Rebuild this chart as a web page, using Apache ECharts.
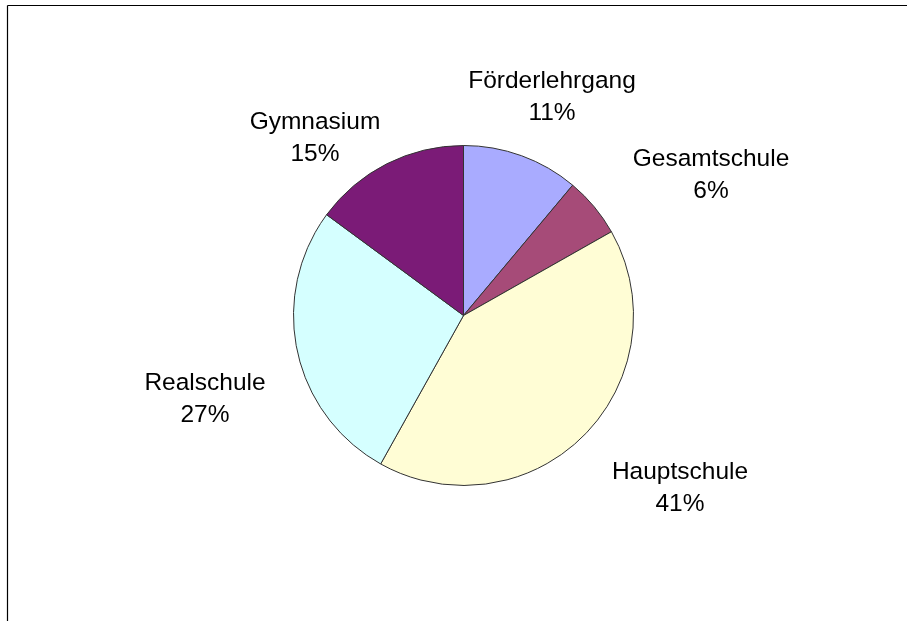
<!DOCTYPE html>
<html>
<head>
<meta charset="utf-8">
<script src="https://cdn.jsdelivr.net/npm/echarts@6/dist/echarts.min.js"></script>
<style>html,body{margin:0;padding:0;background:#fff;}#c{width:907px;height:621px;}</style>
</head>
<body>
<div id="c"></div>
<script>
const categories = ['Förderlehrgang', 'Gesamtschule', 'Hauptschule', 'Realschule', 'Gymnasium'];
const values = [11.1, 5.7, 41.3, 27.0, 14.9];
const colors = ['#A9ABFF', '#A64B78', '#FFFDD5', '#D5FFFF', '#7B1B77'];
// label block centre offsets from the pie centre (px)
const labelOffset = [[88.5, -218.5], [247.5, -140.5], [216.5, 172.5], [-258.5, 84], [-148.5, -177.5]];

const CX = 463.5, CY = 315.5, R = 170;

const chart = echarts.init(document.getElementById('c'), null, { renderer: 'canvas' });
chart.setOption({
  backgroundColor: '#ffffff',
  animation: false,
  graphic: [
    { type: 'line', shape: { x1: 7.5, y1: 5.5, x2: 907, y2: 5.5 }, style: { stroke: '#000', lineWidth: 1.2 } },
    { type: 'line', shape: { x1: 7.5, y1: 5.5, x2: 7.5, y2: 621 }, style: { stroke: '#000', lineWidth: 1.2 } }
  ],
  series: [{
    type: 'pie',
    center: [CX, CY],
    radius: R,
    startAngle: 90,
    clockwise: true,
    percentPrecision: 0,
    avoidLabelOverlap: false,
    itemStyle: { borderColor: '#333', borderWidth: 1 },
    label: {
      show: true,
      position: 'outside',
      formatter: '{b}\n{d}%',
      fontFamily: 'Liberation Sans, Arial, sans-serif',
      fontSize: 24.5,
      lineHeight: 32,
      color: '#000',
      align: 'center'
    },
    labelLine: { show: false },
    labelLayout: function (p) {
      const o = labelOffset[p.dataIndex];
      return { x: CX + o[0], y: CY + o[1], align: 'center', verticalAlign: 'middle' };
    },
    data: categories.map((c, i) => ({ name: c, value: values[i], itemStyle: { color: colors[i] } }))
  }]
});
</script>
</body>
</html>
